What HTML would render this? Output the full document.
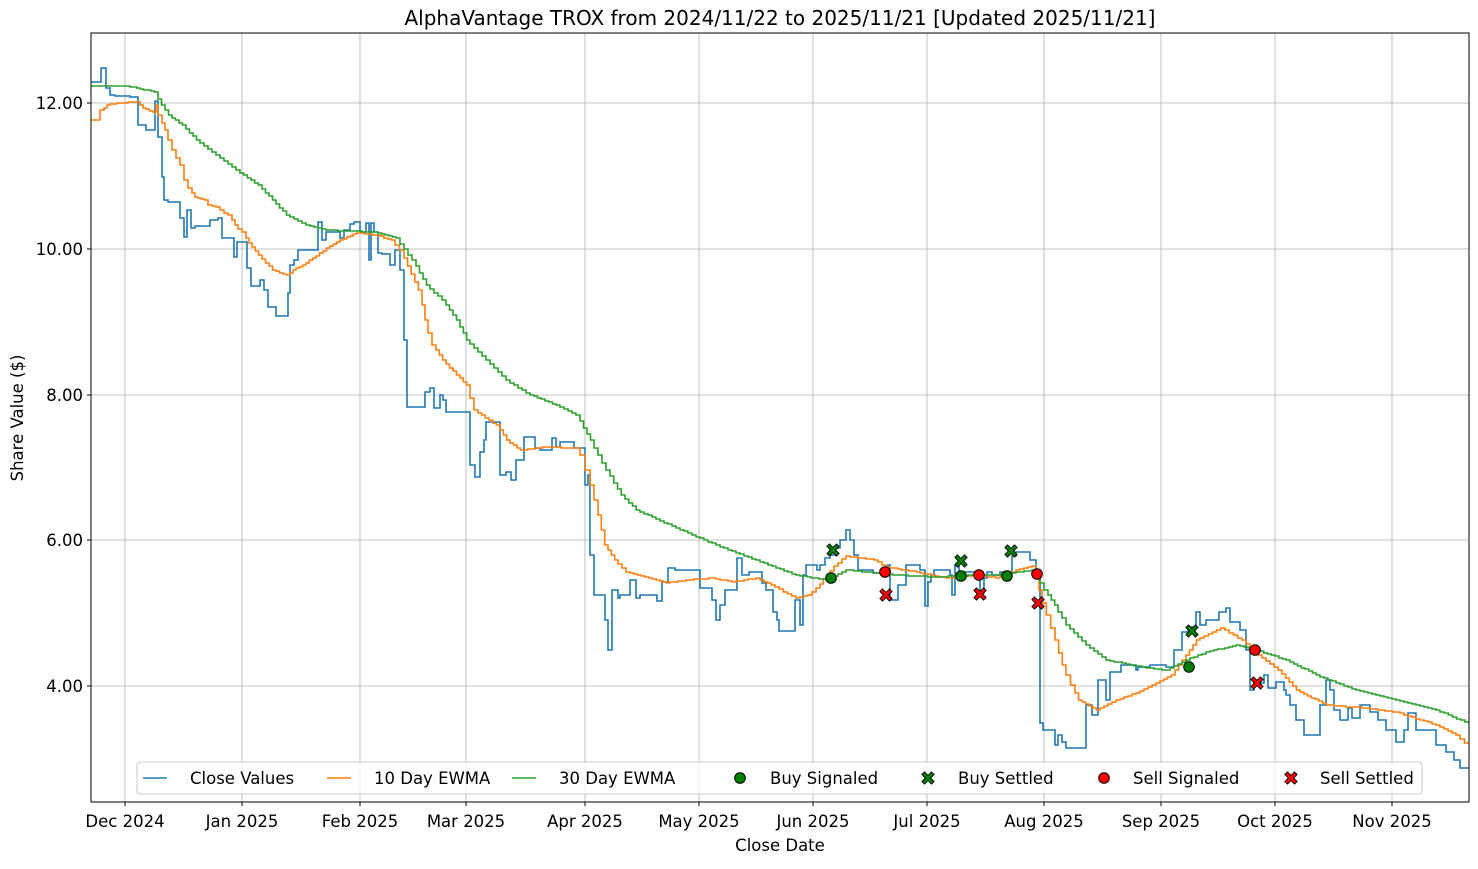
<!DOCTYPE html>
<html><head><meta charset="utf-8"><style>
body{margin:0;background:#fff;}
svg text{font-family:"DejaVu Sans","Liberation Sans",sans-serif;fill:#000;}
</style></head><body>
<svg id="s" width="1478" height="864" xmlns="http://www.w3.org/2000/svg">
<rect width="1478" height="864" fill="#fff"/>
<g id="grid" stroke="#b0b0b0" stroke-width="0.8"></g>
<g id="series" fill="none" stroke-width="1.6"></g>
<g id="marks"></g>
<rect x="91" y="33" width="1378" height="769" fill="none" stroke="#000" stroke-width="1"/>
<g id="ticks" stroke="#000"></g>
<g id="labels" font-size="16.5"></g>
<text x="780" y="25" font-size="20" text-anchor="middle">AlphaVantage TROX from 2024/11/22 to 2025/11/21 [Updated 2025/11/21]</text>
<text x="780" y="851" font-size="16.5" text-anchor="middle">Close Date</text>
<text x="23" y="418" font-size="16.5" text-anchor="middle" transform="rotate(-90 23 418)">Share Value ($)</text>
<g id="legend"></g>
</svg>
<script>
var NS="http://www.w3.org/2000/svg";
function el(p,t,a,txt){var e=document.createElementNS(NS,t);for(var k in a)e.setAttribute(k,a[k]);if(txt)e.textContent=txt;document.getElementById(p).appendChild(e);return e;}
var xt=[[125,"Dec 2024"],[242,"Jan 2025"],[360,"Feb 2025"],[466,"Mar 2025"],[585,"Apr 2025"],[699,"May 2025"],[813,"Jun 2025"],[927,"Jul 2025"],[1044,"Aug 2025"],[1161,"Sep 2025"],[1275,"Oct 2025"],[1392,"Nov 2025"]];
xt.forEach(function(t){el("grid","line",{x1:t[0],x2:t[0],y1:33,y2:802});el("ticks","line",{x1:t[0],x2:t[0],y1:802,y2:806});el("labels","text",{x:t[0],y:827,"text-anchor":"middle"},t[1]);});
var yt=[[103,"12.00"],[249,"10.00"],[395,"8.00"],[540,"6.00"],[686,"4.00"]];
yt.forEach(function(t){el("grid","line",{x1:91,x2:1469,y1:t[0],y2:t[0]});el("ticks","line",{x1:87,x2:91,y1:t[0],y2:t[0]});el("labels","text",{x:83,y:t[0]+6,"text-anchor":"end"},t[1]);});
function step(d,c){var p="M91 "+d[0][0];for(var i=0;i<d.length;i++){p+=" H"+d[i][1];if(i+1<d.length)p+=" V"+d[i+1][0];}el("series","path",{d:p,stroke:c});}
function fine(d){var out=[];var px=91,py=d[0][0];for(var i=0;i<d.length;i++){var x1=d[i][1],y1=d[i][0];var n=Math.max(1,Math.round((x1-px)/4));for(var k=1;k<=n;k++){out.push([Math.round(py+(y1-py)*k/n),px+(x1-px)*k/n]);}px=x1;py=y1;}return out;}
var close=[[82,101],[68,106],[88,110],[95,115],[96,130],[97,138],[125,146],[130,155],[101,158],[137,162],[177,164],[200,168],[202,180],[218,184],[237,187],[210,191],[228,195],[226,210],[220,218],[218,222],[238,234],[257,237],[242,247],[268,251],[286,260],[280,264],[290,268],[307,276],[316,288],[293,290],[265,294],[260,298],[250,318],[222,322],[240,326],[232,340],[238,344],[230,350],[224,354],[222,360],[232,366],[223,369],[260,371],[223,374],[232,378],[253,382],[254,390],[265,395],[250,400],[270,404],[340,407],[407,425],[392,430],[388,434],[408,440],[395,443],[400,446],[412,470],[465,475],[477,480],[452,484],[440,486],[422,500],[475,506],[472,511],[480,516],[460,524],[437,535],[448,540],[450,552],[438,556],[447,560],[442,574],[448,585],[485,588],[475,590],[555,594],[595,605],[620,608],[650,612],[590,618],[598,620],[595,630],[580,636],[598,640],[595,657],[601,662],[582,668],[568,675],[570,700],[588,712],[600,716],[620,720],[605,725],[590,737],[558,742],[575,749],[572,762],[583,766],[590,773],[612,777],[620,779],[631,795],[600,800],[625,803],[575,806],[565,817],[570,820],[565,825],[558,830],[555,835],[548,840],[540,846],[530,850],[540,854],[555,858],[570,873],[573,888],[565,890],[600,898],[585,906],[565,920],[570,925],[606,928],[582,931],[575,934],[570,950],[575,952],[595,955],[565,959],[572,980],[593,984],[578,987],[572,992],[575,1000],[572,1012],[556,1016],[552,1030],[560,1036],[570,1040],[723,1043],[730,1055],[745,1058],[735,1062],[742,1066],[748,1086],[705,1092],[715,1098],[680,1106],[700,1110],[672,1121],[665,1136],[670,1138],[667,1150],[665,1166],[667,1174],[650,1182],[632,1188],[627,1196],[612,1200],[625,1206],[620,1219],[612,1226],[608,1230],[622,1240],[630,1246],[650,1250],[690,1254],[680,1260],[683,1264],[675,1268],[688,1276],[682,1284],[690,1286],[695,1290],[705,1296],[720,1304],[735,1320],[705,1326],[680,1330],[690,1334],[710,1340],[720,1348],[708,1352],[718,1360],[705,1370],[712,1378],[720,1386],[730,1396],[742,1404],[730,1408],[713,1416],[730,1436],[745,1446],[752,1454],[760,1460],[768,1469]];
var e10=[[120,100],[110,104],[105,110],[103,120],[102,140],[108,146],[112,156],[105,158],[115,162],[130,168],[150,176],[165,184],[180,188],[188,192],[197,198],[200,208],[205,212],[207,220],[210,224],[215,232],[225,238],[232,246],[243,252],[255,262],[270,276],[275,290],[270,296],[265,306],[258,316],[248,330],[242,340],[237,350],[233,360],[235,380],[240,395],[250,404],[290,422],[320,428],[345,436],[360,446],[375,460],[385,470],[410,478],[425,500],[440,510],[450,524],[447,550],[448,580],[455,585],[470,590],[500,598],[545,608],[560,618],[572,630],[580,660],[583,670],[580,690],[578,716],[582,736],[578,760],[585,775],[598,800],[595,812],[588,820],[575,830],[566,838],[556,850],[560,878],[567,890],[572,920],[578,950],[575,980],[578,1000],[570,1020],[566,1036],[590,1042],[628,1055],[665,1066],[685,1075],[700,1082],[710,1100],[700,1120],[693,1140],[683,1160],[675,1175],[660,1186],[640,1200],[628,1225],[640,1246],[655,1262],[670,1282],[690,1300],[705,1330],[708,1370],[712,1400],[725,1440],[735,1460],[743,1469]];
var e30=[[86,130],[88,140],[92,158],[105,165],[115,172],[125,186],[140,200],[155,220],[170,240],[185,262],[200,276],[215,290],[225,310],[230,330],[232,378],[238,400],[260,416],[285,430],[300,446],[320,460],[340,470],[360,490],[380,510],[393,530],[405,560],[415,580],[440,594],[470,610],[495,625],[510,640],[528,680],[545,720],[560,760],[575,800],[580,830],[570,850],[572,870],[575,900],[577,940],[575,980],[575,1000],[570,1036],[590,1048],[605,1058],[625,1070],[645,1090],[660,1110],[668,1150],[670,1170],[660,1190],[652,1210],[645,1240],[650,1260],[660,1290],[675,1320],[690,1360],[700,1400],[710,1440],[722,1469]];
step(close,"#1f77b4");step(fine(e10),"#ff7f0e");step(fine(e30),"#2ca02c");
function circ(p,x,y,c){el(p,"circle",{cx:x,cy:y,r:5.3,fill:c,stroke:"#000","stroke-width":1});}
function cross(p,x,y,c){var s=4.8,w=2.6;var d="M"+(x-s-w/2)+" "+(y-s+w/2)+" L"+(x-s+w/2)+" "+(y-s-w/2)+" L"+x+" "+(y-w)+" L"+(x+s-w/2)+" "+(y-s-w/2)+" L"+(x+s+w/2)+" "+(y-s+w/2)+" L"+(x+w)+" "+y+" L"+(x+s+w/2)+" "+(y+s-w/2)+" L"+(x+s-w/2)+" "+(y+s+w/2)+" L"+x+" "+(y+w)+" L"+(x-s+w/2)+" "+(y+s+w/2)+" L"+(x-s-w/2)+" "+(y+s-w/2)+" L"+(x-w)+" "+y+" Z";el(p,"path",{d:d,fill:c,stroke:"#000","stroke-width":0.9});}
[[831,578],[961,576],[1007,576],[1189,667]].forEach(function(a){circ("marks",a[0],a[1],"#008000");});
[[833,550],[961,561],[1011,551],[1192,631]].forEach(function(a){cross("marks",a[0],a[1],"#008000");});
[[885,572],[979,575],[1037,574],[1255,650]].forEach(function(a){circ("marks",a[0],a[1],"#ff0000");});
[[886,595],[980,594],[1038,603],[1257,683]].forEach(function(a){cross("marks",a[0],a[1],"#ff0000");});
el("legend","rect",{x:137,y:762,width:1285,height:32,rx:3,fill:"#fff","fill-opacity":0.8,stroke:"#ccc"});
var ly=778;
[[143,"Close Values","#1f77b4"],[327,"10 Day EWMA","#ff7f0e"],[512,"30 Day EWMA","#2ca02c"]].forEach(function(a){el("legend","line",{x1:a[0],x2:a[0]+24,y1:ly,y2:ly,stroke:a[2],"stroke-width":1.6});el("legend","text",{x:a[0]+47,y:ly+6,"font-size":"16.5"},a[1]);});
circ("legend",740,ly,"#008000");el("legend","text",{x:770,y:ly+6,"font-size":"16.5"},"Buy Signaled");
cross("legend",928,ly,"#008000");el("legend","text",{x:958,y:ly+6,"font-size":"16.5"},"Buy Settled");
circ("legend",1104,ly,"#ff0000");el("legend","text",{x:1133,y:ly+6,"font-size":"16.5"},"Sell Signaled");
cross("legend",1291,ly,"#ff0000");el("legend","text",{x:1320,y:ly+6,"font-size":"16.5"},"Sell Settled");
</script>
</body></html>
